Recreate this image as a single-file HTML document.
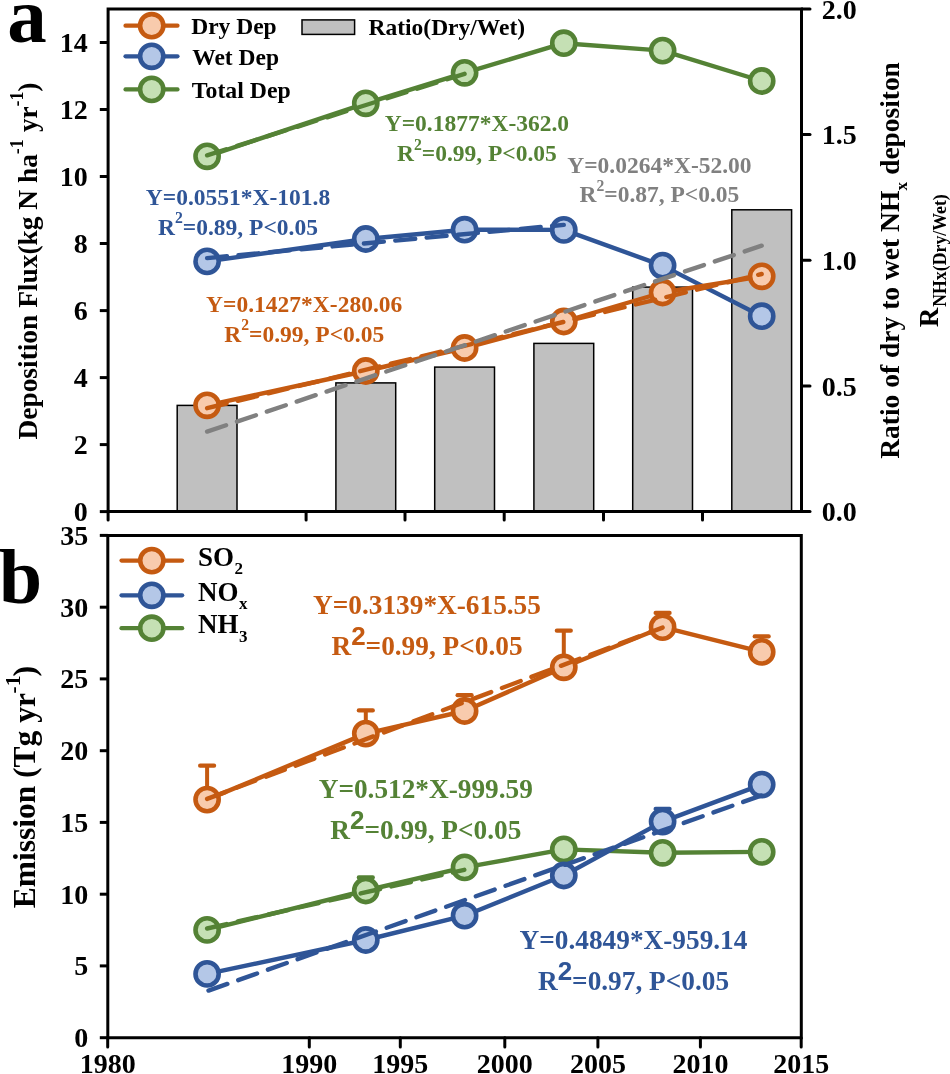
<!DOCTYPE html><html><head><meta charset="utf-8"><style>html,body{margin:0;padding:0;background:#fff;overflow:hidden}svg{display:block;will-change:transform}text{font-family:"Liberation Serif",serif;font-weight:bold}</style></head><body>
<svg width="950" height="1074" viewBox="0 0 950 1074">
<rect width="950" height="1074" fill="#fff"/>
<rect x="177.2" y="405.4" width="59.8" height="106.2" fill="#C0C0C0" stroke="#000" stroke-width="1.5"/>
<rect x="335.9" y="382.9" width="59.8" height="128.8" fill="#C0C0C0" stroke="#000" stroke-width="1.5"/>
<rect x="434.7" y="367.1" width="59.8" height="144.6" fill="#C0C0C0" stroke="#000" stroke-width="1.5"/>
<rect x="533.9" y="343.4" width="59.8" height="168.2" fill="#C0C0C0" stroke="#000" stroke-width="1.5"/>
<rect x="632.7" y="287.1" width="59.8" height="224.6" fill="#C0C0C0" stroke="#000" stroke-width="1.5"/>
<rect x="731.8" y="209.8" width="59.8" height="301.9" fill="#C0C0C0" stroke="#000" stroke-width="1.5"/>
<polyline points="207.1,261.4 365.8,239.0 464.6,229.7 563.8,229.9 662.6,265.6 761.7,316.2" fill="none" stroke="#2F5597" stroke-width="4.4" stroke-linejoin="round" stroke-linecap="round" />
<circle cx="207.1" cy="261.4" r="11.6" fill="#B4C7E7" stroke="#2F5597" stroke-width="4.6"/>
<circle cx="365.8" cy="239.0" r="11.6" fill="#B4C7E7" stroke="#2F5597" stroke-width="4.6"/>
<circle cx="464.6" cy="229.7" r="11.6" fill="#B4C7E7" stroke="#2F5597" stroke-width="4.6"/>
<circle cx="563.8" cy="229.9" r="11.6" fill="#B4C7E7" stroke="#2F5597" stroke-width="4.6"/>
<circle cx="662.6" cy="265.6" r="11.6" fill="#B4C7E7" stroke="#2F5597" stroke-width="4.6"/>
<circle cx="761.7" cy="316.2" r="11.6" fill="#B4C7E7" stroke="#2F5597" stroke-width="4.6"/>
<line x1="207.1" y1="258.1" x2="563.8" y2="224.9" stroke="#2F5597" stroke-width="4.4" stroke-linecap="round" stroke-dasharray="20 11.5"/>
<polyline points="207.1,156.3 365.8,103.3 464.6,72.8 563.8,43.2 662.6,50.6 761.7,81.0" fill="none" stroke="#548235" stroke-width="4.4" stroke-linejoin="round" stroke-linecap="round" />
<circle cx="207.1" cy="156.3" r="11.6" fill="#C5E0B4" stroke="#548235" stroke-width="4.6"/>
<circle cx="365.8" cy="103.3" r="11.6" fill="#C5E0B4" stroke="#548235" stroke-width="4.6"/>
<circle cx="464.6" cy="72.8" r="11.6" fill="#C5E0B4" stroke="#548235" stroke-width="4.6"/>
<circle cx="563.8" cy="43.2" r="11.6" fill="#C5E0B4" stroke="#548235" stroke-width="4.6"/>
<circle cx="662.6" cy="50.6" r="11.6" fill="#C5E0B4" stroke="#548235" stroke-width="4.6"/>
<circle cx="761.7" cy="81.0" r="11.6" fill="#C5E0B4" stroke="#548235" stroke-width="4.6"/>
<line x1="207.1" y1="155.3" x2="464.6" y2="73.8" stroke="#548235" stroke-width="4.4" stroke-linecap="round" stroke-dasharray="20 11.5"/>
<polyline points="207.1,405.3 365.8,371.0 464.6,348.0 563.8,321.5 662.6,292.5 761.7,276.3" fill="none" stroke="#C55A11" stroke-width="4.4" stroke-linejoin="round" stroke-linecap="round" />
<circle cx="207.1" cy="405.3" r="11.6" fill="#F8CBAD" stroke="#C55A11" stroke-width="4.6"/>
<circle cx="365.8" cy="371.0" r="11.6" fill="#F8CBAD" stroke="#C55A11" stroke-width="4.6"/>
<circle cx="464.6" cy="348.0" r="11.6" fill="#F8CBAD" stroke="#C55A11" stroke-width="4.6"/>
<circle cx="563.8" cy="321.5" r="11.6" fill="#F8CBAD" stroke="#C55A11" stroke-width="4.6"/>
<circle cx="662.6" cy="292.5" r="11.6" fill="#F8CBAD" stroke="#C55A11" stroke-width="4.6"/>
<circle cx="761.7" cy="276.3" r="11.6" fill="#F8CBAD" stroke="#C55A11" stroke-width="4.6"/>
<line x1="207.1" y1="408.2" x2="761.7" y2="274.0" stroke="#C55A11" stroke-width="4.4" stroke-linecap="round" stroke-dasharray="20 11.5"/>
<line x1="207.1" y1="431.6" x2="761.7" y2="245.7" stroke="#808080" stroke-width="4.4" stroke-linecap="round" stroke-dasharray="20 11.5"/>
<path d="M108.1,9.0 H801.5 V511.6 H108.1 Z" fill="none" stroke="#000" stroke-width="3"/>
<line x1="99.8" y1="511.6" x2="108.1" y2="511.6" stroke="#000" stroke-width="3"/>
<text x="87.8" y="521.1" font-family="Liberation Serif" font-weight="bold" font-size="28" fill="#000" text-anchor="end" >0</text>
<line x1="99.8" y1="444.6" x2="108.1" y2="444.6" stroke="#000" stroke-width="3"/>
<text x="87.8" y="454.1" font-family="Liberation Serif" font-weight="bold" font-size="28" fill="#000" text-anchor="end" >2</text>
<line x1="99.8" y1="377.6" x2="108.1" y2="377.6" stroke="#000" stroke-width="3"/>
<text x="87.8" y="387.1" font-family="Liberation Serif" font-weight="bold" font-size="28" fill="#000" text-anchor="end" >4</text>
<line x1="99.8" y1="310.6" x2="108.1" y2="310.6" stroke="#000" stroke-width="3"/>
<text x="87.8" y="320.1" font-family="Liberation Serif" font-weight="bold" font-size="28" fill="#000" text-anchor="end" >6</text>
<line x1="99.8" y1="243.5" x2="108.1" y2="243.5" stroke="#000" stroke-width="3"/>
<text x="87.8" y="253.0" font-family="Liberation Serif" font-weight="bold" font-size="28" fill="#000" text-anchor="end" >8</text>
<line x1="99.8" y1="176.5" x2="108.1" y2="176.5" stroke="#000" stroke-width="3"/>
<text x="87.8" y="186.0" font-family="Liberation Serif" font-weight="bold" font-size="28" fill="#000" text-anchor="end" >10</text>
<line x1="99.8" y1="109.5" x2="108.1" y2="109.5" stroke="#000" stroke-width="3"/>
<text x="87.8" y="119.0" font-family="Liberation Serif" font-weight="bold" font-size="28" fill="#000" text-anchor="end" >12</text>
<line x1="99.8" y1="42.5" x2="108.1" y2="42.5" stroke="#000" stroke-width="3"/>
<text x="87.8" y="52.0" font-family="Liberation Serif" font-weight="bold" font-size="28" fill="#000" text-anchor="end" >14</text>
<line x1="801.5" y1="511.6" x2="810" y2="511.6" stroke="#000" stroke-width="3" stroke-linecap="round"/>
<text x="821.8" y="521.1" font-family="Liberation Serif" font-weight="bold" font-size="28" fill="#000" text-anchor="start" >0.0</text>
<line x1="801.5" y1="386.0" x2="810" y2="386.0" stroke="#000" stroke-width="3" stroke-linecap="round"/>
<text x="821.8" y="395.5" font-family="Liberation Serif" font-weight="bold" font-size="28" fill="#000" text-anchor="start" >0.5</text>
<line x1="801.5" y1="260.3" x2="810" y2="260.3" stroke="#000" stroke-width="3" stroke-linecap="round"/>
<text x="821.8" y="269.8" font-family="Liberation Serif" font-weight="bold" font-size="28" fill="#000" text-anchor="start" >1.0</text>
<line x1="801.5" y1="134.6" x2="810" y2="134.6" stroke="#000" stroke-width="3" stroke-linecap="round"/>
<text x="821.8" y="144.1" font-family="Liberation Serif" font-weight="bold" font-size="28" fill="#000" text-anchor="start" >1.5</text>
<line x1="801.5" y1="9.0" x2="810" y2="9.0" stroke="#000" stroke-width="3" stroke-linecap="round"/>
<text x="821.8" y="18.5" font-family="Liberation Serif" font-weight="bold" font-size="28" fill="#000" text-anchor="start" >2.0</text>
<line x1="108.1" y1="511.6" x2="108.1" y2="520" stroke="#000" stroke-width="3" stroke-linecap="round"/>
<line x1="306.1" y1="511.6" x2="306.1" y2="520" stroke="#000" stroke-width="3" stroke-linecap="round"/>
<line x1="405.0" y1="511.6" x2="405.0" y2="520" stroke="#000" stroke-width="3" stroke-linecap="round"/>
<line x1="504.2" y1="511.6" x2="504.2" y2="520" stroke="#000" stroke-width="3" stroke-linecap="round"/>
<line x1="603.5" y1="511.6" x2="603.5" y2="520" stroke="#000" stroke-width="3" stroke-linecap="round"/>
<line x1="702.5" y1="511.6" x2="702.5" y2="520" stroke="#000" stroke-width="3" stroke-linecap="round"/>
<line x1="125.5" y1="25.7" x2="177.5" y2="25.7" stroke="#C55A11" stroke-width="4.2" stroke-linecap="round"/>
<circle cx="151.7" cy="25.7" r="11.6" fill="#F8CBAD" stroke="#C55A11" stroke-width="4.6"/>
<line x1="125.5" y1="56.3" x2="177.5" y2="56.3" stroke="#2F5597" stroke-width="4.2" stroke-linecap="round"/>
<circle cx="151.7" cy="56.3" r="11.6" fill="#B4C7E7" stroke="#2F5597" stroke-width="4.6"/>
<line x1="125.5" y1="89.4" x2="177.5" y2="89.4" stroke="#548235" stroke-width="4.2" stroke-linecap="round"/>
<circle cx="151.7" cy="89.4" r="11.6" fill="#C5E0B4" stroke="#548235" stroke-width="4.6"/>
<rect x="302" y="19.9" width="52.6" height="14.5" fill="#C0C0C0" stroke="#000" stroke-width="1.5"/>
<text x="191.2" y="34.3" font-family="Liberation Serif" font-weight="bold" font-size="23.5" fill="#000" text-anchor="start" >Dry Dep</text>
<text x="192.2" y="64.9" font-family="Liberation Serif" font-weight="bold" font-size="23.5" fill="#000" text-anchor="start" >Wet Dep</text>
<text x="191.8" y="97.5" font-family="Liberation Serif" font-weight="bold" font-size="23.8" fill="#000" text-anchor="start" >Total Dep</text>
<text x="368.5" y="35" font-family="Liberation Serif" font-weight="bold" font-size="23.5" fill="#000" text-anchor="start" >Ratio(Dry/Wet)</text>
<text x="476.9" y="130.9" font-family="Liberation Serif" font-weight="bold" font-size="23.5" fill="#548235" text-anchor="middle" >Y=0.1877*X-362.0</text>
<text x="476.9" y="161" font-family="Liberation Serif" font-weight="bold" font-size="23.5" fill="#548235" text-anchor="middle">R<tspan font-family="Liberation Serif" font-size="15.7" dy="-11.4">2</tspan><tspan dy="11.4">=0.99, P&lt;0.05</tspan></text>
<text x="238" y="204.6" font-family="Liberation Serif" font-weight="bold" font-size="23.5" fill="#2F5597" text-anchor="middle" >Y=0.0551*X-101.8</text>
<text x="238" y="234.5" font-family="Liberation Serif" font-weight="bold" font-size="23.5" fill="#2F5597" text-anchor="middle">R<tspan font-family="Liberation Serif" font-size="15.7" dy="-11.4">2</tspan><tspan dy="11.4">=0.89, P&lt;0.05</tspan></text>
<text x="659.4" y="172.8" font-family="Liberation Serif" font-weight="bold" font-size="23.5" fill="#808080" text-anchor="middle" >Y=0.0264*X-52.00</text>
<text x="659.4" y="202.2" font-family="Liberation Serif" font-weight="bold" font-size="23.5" fill="#808080" text-anchor="middle">R<tspan font-family="Liberation Serif" font-size="15.7" dy="-11.4">2</tspan><tspan dy="11.4">=0.87, P&lt;0.05</tspan></text>
<text x="304.2" y="311.6" font-family="Liberation Serif" font-weight="bold" font-size="23.5" fill="#C55A11" text-anchor="middle" >Y=0.1427*X-280.06</text>
<text x="304.2" y="341.7" font-family="Liberation Serif" font-weight="bold" font-size="23.5" fill="#C55A11" text-anchor="middle">R<tspan font-family="Liberation Serif" font-size="15.7" dy="-11.4">2</tspan><tspan dy="11.4">=0.99, P&lt;0.05</tspan></text>
<text x="7.3" y="42.3" font-family="Liberation Serif" font-weight="bold" font-size="79" fill="#000" text-anchor="start" >a</text>
<text x="-1" y="603.2" font-family="Liberation Serif" font-weight="bold" font-size="77.5" fill="#000" text-anchor="start" >b</text>
<text transform="translate(36.7,439.5) rotate(-90)" font-family="Liberation Serif" font-weight="bold" font-size="27.4" >Deposition Flux(kg N ha</text>
<text transform="translate(22.6,154.2) rotate(-90)" font-family="Liberation Serif" font-weight="bold" font-size="18" >-1</text>
<text transform="translate(36.7,132.1) rotate(-90)" font-family="Liberation Serif" font-weight="bold" font-size="27" >yr</text>
<text transform="translate(22.6,106.4) rotate(-90)" font-family="Liberation Serif" font-weight="bold" font-size="18" >-1</text>
<text transform="translate(36.7,91.7) rotate(-90)" font-family="Liberation Serif" font-weight="bold" font-size="28" >)</text>
<text transform="translate(898.8,458.8) rotate(-90)" font-family="Liberation Serif" font-weight="bold" font-size="27.5" >Ratio of dry to wet NH</text>
<text transform="translate(907.2,190.6) rotate(-90)" font-family="Liberation Serif" font-weight="bold" font-size="17" >x</text>
<text transform="translate(898.8,174.8) rotate(-90)" font-family="Liberation Serif" font-weight="bold" font-size="27.4" >depositon</text>
<text transform="translate(937.7,327.2) rotate(-90)" font-family="Liberation Serif" font-weight="bold" font-size="27" >R</text>
<text transform="translate(946.3,306.8) rotate(-90)" font-family="Liberation Serif" font-weight="bold" font-size="17.8" >NHx(Dry/Wet)</text>
<line x1="207.1" y1="799.6" x2="207.1" y2="765.7" stroke="#C55A11" stroke-width="4"/>
<line x1="200.1" y1="765.7" x2="214.1" y2="765.7" stroke="#C55A11" stroke-width="4.2" stroke-linecap="round"/>
<line x1="365.8" y1="733.6" x2="365.8" y2="710.4" stroke="#C55A11" stroke-width="4"/>
<line x1="358.8" y1="710.4" x2="372.8" y2="710.4" stroke="#C55A11" stroke-width="4.2" stroke-linecap="round"/>
<line x1="464.6" y1="711.0" x2="464.6" y2="695.2" stroke="#C55A11" stroke-width="4"/>
<line x1="457.6" y1="695.2" x2="471.6" y2="695.2" stroke="#C55A11" stroke-width="4.2" stroke-linecap="round"/>
<line x1="563.8" y1="667.3" x2="563.8" y2="630.7" stroke="#C55A11" stroke-width="4"/>
<line x1="556.8" y1="630.7" x2="570.8" y2="630.7" stroke="#C55A11" stroke-width="4.2" stroke-linecap="round"/>
<line x1="662.6" y1="627.2" x2="662.6" y2="612.9" stroke="#C55A11" stroke-width="4"/>
<line x1="655.6" y1="612.9" x2="669.6" y2="612.9" stroke="#C55A11" stroke-width="4.2" stroke-linecap="round"/>
<line x1="761.7" y1="651.9" x2="761.7" y2="636.4" stroke="#C55A11" stroke-width="4"/>
<line x1="754.7" y1="636.4" x2="768.7" y2="636.4" stroke="#C55A11" stroke-width="4.2" stroke-linecap="round"/>
<polyline points="207.1,799.6 365.8,733.6 464.6,711.0 563.8,667.3 662.6,627.2 761.7,651.9" fill="none" stroke="#C55A11" stroke-width="4.4" stroke-linejoin="round" stroke-linecap="round" />
<circle cx="207.1" cy="799.6" r="11.6" fill="#F8CBAD" stroke="#C55A11" stroke-width="4.6"/>
<circle cx="365.8" cy="733.6" r="11.6" fill="#F8CBAD" stroke="#C55A11" stroke-width="4.6"/>
<circle cx="464.6" cy="711.0" r="11.6" fill="#F8CBAD" stroke="#C55A11" stroke-width="4.6"/>
<circle cx="563.8" cy="667.3" r="11.6" fill="#F8CBAD" stroke="#C55A11" stroke-width="4.6"/>
<circle cx="662.6" cy="627.2" r="11.6" fill="#F8CBAD" stroke="#C55A11" stroke-width="4.6"/>
<circle cx="761.7" cy="651.9" r="11.6" fill="#F8CBAD" stroke="#C55A11" stroke-width="4.6"/>
<line x1="207.1" y1="798.9" x2="662.6" y2="627.6" stroke="#C55A11" stroke-width="4.4" stroke-linecap="round" stroke-dasharray="20 11.5"/>
<line x1="365.8" y1="890.5" x2="365.8" y2="877.4" stroke="#548235" stroke-width="4"/><line x1="358.8" y1="877.4" x2="372.8" y2="877.4" stroke="#548235" stroke-width="4.2" stroke-linecap="round"/>
<polyline points="207.1,929.9 365.8,890.5 464.6,867.4 563.8,849.4 662.6,852.8 761.7,851.9" fill="none" stroke="#548235" stroke-width="4.4" stroke-linejoin="round" stroke-linecap="round" />
<circle cx="207.1" cy="929.9" r="11.6" fill="#C5E0B4" stroke="#548235" stroke-width="4.6"/>
<circle cx="365.8" cy="890.5" r="11.6" fill="#C5E0B4" stroke="#548235" stroke-width="4.6"/>
<circle cx="464.6" cy="867.4" r="11.6" fill="#C5E0B4" stroke="#548235" stroke-width="4.6"/>
<circle cx="563.8" cy="849.4" r="11.6" fill="#C5E0B4" stroke="#548235" stroke-width="4.6"/>
<circle cx="662.6" cy="852.8" r="11.6" fill="#C5E0B4" stroke="#548235" stroke-width="4.6"/>
<circle cx="761.7" cy="851.9" r="11.6" fill="#C5E0B4" stroke="#548235" stroke-width="4.6"/>
<line x1="207.1" y1="928.5" x2="464.3" y2="869.8" stroke="#548235" stroke-width="4.4" stroke-linecap="round" stroke-dasharray="20 11.5"/>
<line x1="662.6" y1="821.6" x2="662.6" y2="808.9" stroke="#2F5597" stroke-width="4"/><line x1="655.6" y1="808.9" x2="669.6" y2="808.9" stroke="#2F5597" stroke-width="4.2" stroke-linecap="round"/>
<polyline points="207.1,973.9 365.8,940.0 464.6,915.7 563.8,875.5 662.6,821.6 761.7,784.6" fill="none" stroke="#2F5597" stroke-width="4.4" stroke-linejoin="round" stroke-linecap="round" />
<circle cx="207.1" cy="973.9" r="11.6" fill="#B4C7E7" stroke="#2F5597" stroke-width="4.6"/>
<circle cx="365.8" cy="940.0" r="11.6" fill="#B4C7E7" stroke="#2F5597" stroke-width="4.6"/>
<circle cx="464.6" cy="915.7" r="11.6" fill="#B4C7E7" stroke="#2F5597" stroke-width="4.6"/>
<circle cx="563.8" cy="875.5" r="11.6" fill="#B4C7E7" stroke="#2F5597" stroke-width="4.6"/>
<circle cx="662.6" cy="821.6" r="11.6" fill="#B4C7E7" stroke="#2F5597" stroke-width="4.6"/>
<circle cx="761.7" cy="784.6" r="11.6" fill="#B4C7E7" stroke="#2F5597" stroke-width="4.6"/>
<line x1="208.5" y1="990.6" x2="761.7" y2="795.4" stroke="#2F5597" stroke-width="4.4" stroke-linecap="round" stroke-dasharray="20 11.5"/>
<path d="M107.8,535.4 H801.3 V1037.7 H107.8 Z" fill="none" stroke="#000" stroke-width="3"/>
<line x1="99.8" y1="1037.7" x2="107.8" y2="1037.7" stroke="#000" stroke-width="3"/>
<text x="88.2" y="1047.2" font-family="Liberation Serif" font-weight="bold" font-size="28" fill="#000" text-anchor="end" >0</text>
<line x1="99.8" y1="965.9" x2="107.8" y2="965.9" stroke="#000" stroke-width="3"/>
<text x="88.2" y="975.4" font-family="Liberation Serif" font-weight="bold" font-size="28" fill="#000" text-anchor="end" >5</text>
<line x1="99.8" y1="894.2" x2="107.8" y2="894.2" stroke="#000" stroke-width="3"/>
<text x="88.2" y="903.7" font-family="Liberation Serif" font-weight="bold" font-size="28" fill="#000" text-anchor="end" >10</text>
<line x1="99.8" y1="822.4" x2="107.8" y2="822.4" stroke="#000" stroke-width="3"/>
<text x="88.2" y="831.9" font-family="Liberation Serif" font-weight="bold" font-size="28" fill="#000" text-anchor="end" >15</text>
<line x1="99.8" y1="750.7" x2="107.8" y2="750.7" stroke="#000" stroke-width="3"/>
<text x="88.2" y="760.2" font-family="Liberation Serif" font-weight="bold" font-size="28" fill="#000" text-anchor="end" >20</text>
<line x1="99.8" y1="678.9" x2="107.8" y2="678.9" stroke="#000" stroke-width="3"/>
<text x="88.2" y="688.4" font-family="Liberation Serif" font-weight="bold" font-size="28" fill="#000" text-anchor="end" >25</text>
<line x1="99.8" y1="607.2" x2="107.8" y2="607.2" stroke="#000" stroke-width="3"/>
<text x="88.2" y="616.7" font-family="Liberation Serif" font-weight="bold" font-size="28" fill="#000" text-anchor="end" >30</text>
<line x1="99.8" y1="535.4" x2="107.8" y2="535.4" stroke="#000" stroke-width="3"/>
<text x="88.2" y="544.9" font-family="Liberation Serif" font-weight="bold" font-size="28" fill="#000" text-anchor="end" >35</text>
<line x1="107.7" y1="1037.7" x2="107.7" y2="1047" stroke="#000" stroke-width="3" stroke-linecap="round"/>
<text x="107.7" y="1073.2" font-family="Liberation Serif" font-weight="bold" font-size="28" fill="#000" text-anchor="middle" >1980</text>
<line x1="309.3" y1="1037.7" x2="309.3" y2="1047" stroke="#000" stroke-width="3" stroke-linecap="round"/>
<text x="309.3" y="1073.2" font-family="Liberation Serif" font-weight="bold" font-size="28" fill="#000" text-anchor="middle" >1990</text>
<line x1="400.3" y1="1037.7" x2="400.3" y2="1047" stroke="#000" stroke-width="3" stroke-linecap="round"/>
<text x="400.3" y="1073.2" font-family="Liberation Serif" font-weight="bold" font-size="28" fill="#000" text-anchor="middle" >1995</text>
<line x1="504.8" y1="1037.7" x2="504.8" y2="1047" stroke="#000" stroke-width="3" stroke-linecap="round"/>
<text x="504.8" y="1073.2" font-family="Liberation Serif" font-weight="bold" font-size="28" fill="#000" text-anchor="middle" >2000</text>
<line x1="597.9" y1="1037.7" x2="597.9" y2="1047" stroke="#000" stroke-width="3" stroke-linecap="round"/>
<text x="597.9" y="1073.2" font-family="Liberation Serif" font-weight="bold" font-size="28" fill="#000" text-anchor="middle" >2005</text>
<line x1="700.4" y1="1037.7" x2="700.4" y2="1047" stroke="#000" stroke-width="3" stroke-linecap="round"/>
<text x="700.4" y="1073.2" font-family="Liberation Serif" font-weight="bold" font-size="28" fill="#000" text-anchor="middle" >2010</text>
<line x1="801.2" y1="1037.7" x2="801.2" y2="1047" stroke="#000" stroke-width="3" stroke-linecap="round"/>
<text x="801.2" y="1073.2" font-family="Liberation Serif" font-weight="bold" font-size="28" fill="#000" text-anchor="middle" >2015</text>
<line x1="121.5" y1="560.6" x2="182.2" y2="560.6" stroke="#C55A11" stroke-width="4.2" stroke-linecap="round"/>
<circle cx="151.8" cy="560.6" r="11.6" fill="#F8CBAD" stroke="#C55A11" stroke-width="4.6"/>
<line x1="121.5" y1="595.3" x2="182.2" y2="595.3" stroke="#2F5597" stroke-width="4.2" stroke-linecap="round"/>
<circle cx="151.8" cy="595.3" r="11.6" fill="#B4C7E7" stroke="#2F5597" stroke-width="4.6"/>
<line x1="121.5" y1="628.2" x2="182.2" y2="628.2" stroke="#548235" stroke-width="4.2" stroke-linecap="round"/>
<circle cx="151.8" cy="628.2" r="11.6" fill="#C5E0B4" stroke="#548235" stroke-width="4.6"/>
<text x="198" y="565.8" font-family="Liberation Serif" font-weight="bold" font-size="27">SO<tspan font-size="17" dx="0.5" dy="8.6">2</tspan></text>
<text x="198" y="600.5" font-family="Liberation Serif" font-weight="bold" font-size="27">NO<tspan font-size="17" dx="0.5" dy="8.6">x</tspan></text>
<text x="198" y="632.9" font-family="Liberation Serif" font-weight="bold" font-size="27">NH<tspan font-size="17" dx="0.5" dy="8.6">3</tspan></text>
<text x="427" y="614.3" font-family="Liberation Serif" font-weight="bold" font-size="27.3" fill="#C55A11" text-anchor="middle" >Y=0.3139*X-615.55</text>
<text x="427" y="654.6" font-family="Liberation Serif" font-weight="bold" font-size="27.3" fill="#C55A11" text-anchor="middle">R<tspan font-family="Liberation Sans" font-size="26" dy="-9.8">2</tspan><tspan dy="9.8">=0.99, P&lt;0.05</tspan></text>
<text x="425.8" y="798.4" font-family="Liberation Serif" font-weight="bold" font-size="27.3" fill="#548235" text-anchor="middle" >Y=0.512*X-999.59</text>
<text x="425.8" y="838.9" font-family="Liberation Serif" font-weight="bold" font-size="27.3" fill="#548235" text-anchor="middle">R<tspan font-family="Liberation Sans" font-size="26" dy="-9.8">2</tspan><tspan dy="9.8">=0.99, P&lt;0.05</tspan></text>
<text x="633.5" y="949.3" font-family="Liberation Serif" font-weight="bold" font-size="27.3" fill="#2F5597" text-anchor="middle" >Y=0.4849*X-959.14</text>
<text x="633.5" y="989.8" font-family="Liberation Serif" font-weight="bold" font-size="27.3" fill="#2F5597" text-anchor="middle">R<tspan font-family="Liberation Sans" font-size="26" dy="-9.8">2</tspan><tspan dy="9.8">=0.97, P&lt;0.05</tspan></text>
<text transform="translate(35,908.3) rotate(-90)" font-family="Liberation Serif" font-weight="bold" font-size="31.5" >Emission (Tg yr</text>
<text transform="translate(20,693.4) rotate(-90)" font-family="Liberation Serif" font-weight="bold" font-size="21.5" >-1</text>
<text transform="translate(35,676.5) rotate(-90)" font-family="Liberation Serif" font-weight="bold" font-size="32" >)</text>
</svg></body></html>
